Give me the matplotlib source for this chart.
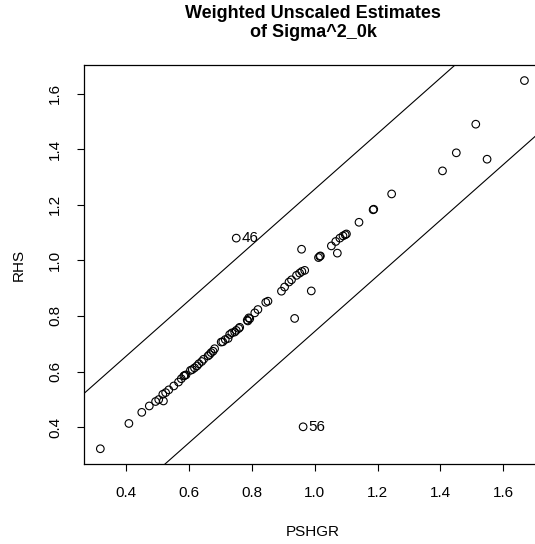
import numpy as np
import matplotlib
matplotlib.use("Agg")
import matplotlib.pyplot as plt

plt.rcParams['font.family'] = ['Liberation Sans', 'DejaVu Sans']

# PSHGR (x) and RHS (y)
pshgr = [0.317, 0.408, 0.449, 0.473, 0.493, 0.503, 0.518, 0.516, 0.525, 0.535,
         0.551, 0.566, 0.575, 0.583, 0.586, 0.590, 0.604, 0.610, 0.617, 0.625,
         0.631, 0.640, 0.646, 0.660, 0.665, 0.670, 0.676, 0.681, 0.702, 0.707,
         0.715, 0.724, 0.729, 0.736, 0.745, 0.750, 0.758, 0.761, 0.785, 0.787,
         0.790, 0.793, 0.809, 0.819, 0.844, 0.851, 0.894, 0.904, 0.918, 0.926,
         0.936, 0.942, 0.952, 0.958, 0.959, 0.963, 0.968, 0.989, 1.012, 1.016,
         1.018, 1.053, 1.067, 1.072, 1.080, 1.090, 1.097, 1.101, 1.141, 1.186,
         1.188, 1.245, 1.407, 1.451, 1.513, 1.549, 1.668]
rhs = [0.322, 0.413, 0.453, 0.476, 0.492, 0.499, 0.494, 0.518, 0.524, 0.534,
       0.548, 0.562, 0.574, 0.584, 0.586, 0.588, 0.604, 0.607, 0.613, 0.620,
       0.628, 0.636, 0.644, 0.656, 0.661, 0.668, 0.673, 0.682, 0.706, 0.707,
       0.715, 0.719, 0.733, 0.739, 0.742, 0.748, 0.755, 0.759, 0.785, 0.782,
       0.793, 0.790, 0.811, 0.823, 0.849, 0.853, 0.889, 0.904, 0.922, 0.930,
       0.791, 0.946, 0.954, 1.040, 0.960, 0.401, 0.964, 0.890, 1.010, 1.014,
       1.016, 1.052, 1.068, 1.026, 1.080, 1.088, 1.092, 1.095, 1.137, 1.182,
       1.184, 1.239, 1.322, 1.387, 1.490, 1.364, 1.647]
# labelled points: (x, y, label)
lab_x = [0.750, 0.963]
lab_y = [1.080, 0.401]
lab_txt = ['46', '56']
band = 0.256  # half width of the band around y = x

fig = plt.figure(figsize=(5.35, 5.44), dpi=100)
ax = fig.add_axes([0.1576, 0.147, 0.8555, 0.7335])

ax.scatter(pshgr + lab_x[:1], rhs + lab_y[:1], s=30, facecolors='none',
           edgecolors='black', linewidths=0.8, zorder=3)
for x, y, t in zip(lab_x, lab_y, lab_txt):
    ax.text(x + 0.018, y, t, fontsize=11, va='center', ha='left')

xl = (0.266, 1.724)
xx = np.array(xl)
ax.plot(xx, xx + band, color='black', lw=0.8)
ax.plot(xx, xx - band, color='black', lw=0.8)

ax.set_xlim(xl)
ax.set_ylim(0.267, 1.703)
ax.set_xticks([0.4, 0.6, 0.8, 1.0, 1.2, 1.4, 1.6])
ax.set_yticks([0.4, 0.6, 0.8, 1.0, 1.2, 1.4, 1.6])
ax.set_xticklabels(['0.4', '0.6', '0.8', '1.0', '1.2', '1.4', '1.6'])
ax.set_yticklabels(['0.4', '0.6', '0.8', '1.0', '1.2', '1.4', '1.6'],
                   rotation=90, va='center')
ax.tick_params(axis='both', labelsize=11, length=5, width=0.8, pad=11)
for s in ax.spines.values():
    s.set_linewidth(0.9)

ax.set_xlabel('PSHGR', fontsize=11, labelpad=18)
ax.set_ylabel('RHS', fontsize=11, labelpad=16)
ax.set_title('Weighted Unscaled Estimates\nof Sigma^2_0k', fontsize=13,
             fontweight='bold', pad=20, linespacing=1.15)

fig.savefig('out.png', dpi=100)
